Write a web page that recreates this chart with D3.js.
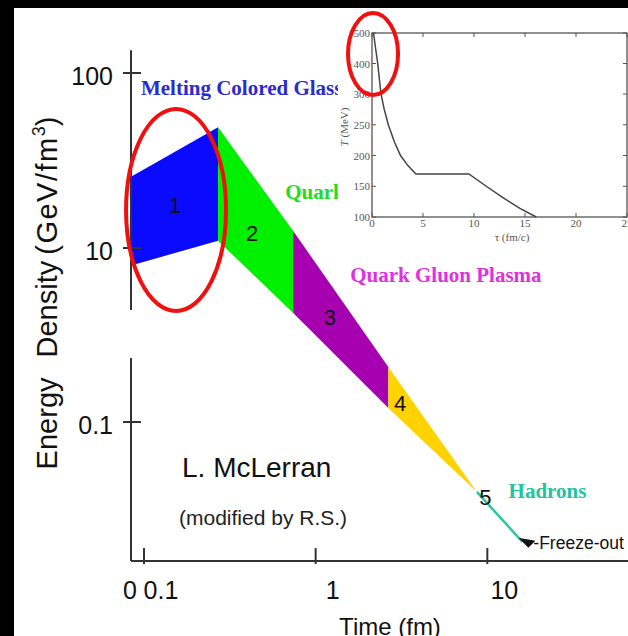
<!DOCTYPE html>
<html>
<head>
<meta charset="utf-8">
<script src="https://cdn.jsdelivr.net/npm/d3@7"></script>
<style>
  body { margin: 0; background: #000; }
  svg { display: block; }
</style>
</head>
<body>
<div id="chart"></div>
<script>
// Phase bands: time boundaries (fm) and upper / lower energy density (GeV/fm^3)
const phaseLabels = ['1', '2', '3', '4'];
const phaseColors = ['#0a0aff', '#00f000', '#a600b0', '#ffd200'];
const bandTimes = [0.084, 0.27, 0.74, 2.65, 8.7];
const bandUpper = [25.5, 49, 12.5, 0.43, 0.0157];
const bandLower = [6.3, 11, 1.79, 0.145, 0.0157];

// Number labels placed inside the bands (time, density)
const numberLabels = ['1', '2', '3', '4', '5'];
const numberTimes = [0.152, 0.427, 1.21, 3.11, 9.73];
const numberDensity = [17.6, 12.2, 1.61, 0.165, 0.0137];

// Hadron gas line to freeze-out
const hadronTimes = [8.7, 16];
const hadronDensity = [0.0157, 0.0042];

// Axis ticks
const xTicks = [0.1, 1, 10];
const xTickLabels = ['0.1', '1', '10'];
const yTicks = [100, 10, 0.1];
const yTickLabels = ['100', '10', '0.1'];

// Inset: temperature vs proper time
const insetTau = [0.15, 0.35, 0.56, 0.88, 1.2, 1.6, 2.2, 2.8, 3.5, 4.3, 9.5, 11.2, 12.8, 14.5, 16.1];
const insetTemp = [500, 450, 400, 300, 275, 250, 222, 200, 184, 170, 170, 150, 132, 114, 100];
const insetXTicks = [0, 5, 10, 15, 20, 25];
const insetYTicks = [100, 150, 200, 250, 300, 400, 500];

const width = 628, height = 636;
const insetLeft = 338, insetBottom = 246;
const sans = 'Liberation Sans, Arial, sans-serif';
const serif = 'Liberation Serif, Times New Roman, serif';

const svg = d3.select('#chart').append('svg')
  .attr('width', width)
  .attr('height', height);

svg.append('rect').attr('width', width).attr('height', height).attr('fill', '#000');
svg.append('rect').attr('x', 14).attr('y', 8)
  .attr('width', width - 14).attr('height', height - 8).attr('fill', '#fff');

// labels running under the inset picture are cut at its left edge
svg.append('clipPath').attr('id', 'left-of-inset')
  .append('rect').attr('x', 0).attr('y', 0)
  .attr('width', insetLeft).attr('height', height);

// Scales (the y axis is broken, so the log scale is piecewise)
const x = d3.scaleLog().domain([0.084, 66]).range([131, 628]);
const y = d3.scaleLog().domain([0.1, 10, 100]).range([422, 248, 73]);
const x0 = x(0.084);

// Bands
const area = d3.area()
  .x(d => x(d.t))
  .y0(d => y(d.lo))
  .y1(d => y(d.hi));

phaseLabels.forEach((p, i) => {
  const seg = [
    { t: bandTimes[i], hi: bandUpper[i], lo: bandLower[i] },
    { t: bandTimes[i + 1], hi: bandUpper[i + 1], lo: bandLower[i + 1] }
  ];
  svg.append('path')
    .datum(seg)
    .attr('fill', phaseColors[i])
    .attr('d', area);
});

// Hadron line
const line = d3.line().x(d => x(d[0])).y(d => y(d[1]));
const hadron = hadronTimes.map((t, i) => [t, hadronDensity[i]]);
svg.append('path')
  .datum(hadron)
  .attr('fill', 'none')
  .attr('stroke', '#2ec4a0')
  .attr('stroke-width', 2.5)
  .attr('d', line);

// Freeze-out arrow head
const endX = x(hadronTimes[1]), endY = y(hadronDensity[1]);
svg.append('path')
  .attr('d', `M${endX - 4},${endY - 4} L${endX + 13},${endY - 1} L${endX + 6},${endY + 6} Z`)
  .attr('fill', '#111');
svg.append('text')
  .attr('x', endX + 11).attr('y', endY + 7)
  .attr('font-family', sans).attr('font-size', 17.5).attr('fill', '#111')
  .text('-Freeze-out');

// Axes
const axisColor = '#333';
svg.append('line')
  .attr('x1', x0).attr('x2', width)
  .attr('y1', y(0.00252)).attr('y2', y(0.00252))
  .attr('stroke', axisColor).attr('stroke-width', 2);
svg.append('line')
  .attr('x1', x0).attr('x2', x0)
  .attr('y1', y(135)).attr('y2', y(1.94))
  .attr('stroke', axisColor).attr('stroke-width', 2);
svg.append('line')
  .attr('x1', x0).attr('x2', x0)
  .attr('y1', y(0.545)).attr('y2', y(0.00252))
  .attr('stroke', axisColor).attr('stroke-width', 2);

const xAxisY = y(0.00252);
svg.selectAll('.x-tick')
  .data(xTicks)
  .enter().append('line')
  .attr('x1', d => x(d)).attr('x2', d => x(d))
  .attr('y1', xAxisY - 13).attr('y2', xAxisY + 3)
  .attr('stroke', axisColor).attr('stroke-width', 2);
svg.selectAll('.x-label')
  .data(xTicks)
  .enter().append('text')
  .attr('x', d => x(d) + 17).attr('y', xAxisY + 38)
  .attr('text-anchor', 'middle')
  .attr('font-family', sans).attr('font-size', 25).attr('fill', '#111')
  .text((d, i) => xTickLabels[i]);
svg.append('text')
  .attr('x', x0 - 1).attr('y', xAxisY + 38)
  .attr('text-anchor', 'middle')
  .attr('font-family', sans).attr('font-size', 25).attr('fill', '#111')
  .text('0');

svg.selectAll('.y-tick')
  .data(yTicks)
  .enter().append('line')
  .attr('x1', x0 - 8).attr('x2', x0 + 10)
  .attr('y1', d => y(d)).attr('y2', d => y(d))
  .attr('stroke', axisColor).attr('stroke-width', 2);
svg.selectAll('.y-label')
  .data(yTicks)
  .enter().append('text')
  .attr('x', x0 - 18).attr('y', d => y(d) + 12)
  .attr('text-anchor', 'end')
  .attr('font-family', sans).attr('font-size', 25).attr('fill', '#111')
  .text((d, i) => yTickLabels[i]);

// Axis titles
const yTitle = svg.append('text')
  .attr('transform', 'translate(57,293) rotate(-90)')
  .attr('text-anchor', 'middle')
  .attr('font-family', sans).attr('font-size', 29).attr('fill', '#111');
yTitle.append('tspan').text('Energy');
yTitle.append('tspan').attr('dx', 20).text('Density');
yTitle.append('tspan').attr('dx', 6).attr('letter-spacing', 1.5).text('(GeV/fm');
yTitle.append('tspan').attr('font-size', 18).attr('dy', -12).text('3');
yTitle.append('tspan').attr('dy', 12).text(')');

svg.append('text')
  .attr('x', 390).attr('y', 635)
  .attr('text-anchor', 'middle')
  .attr('font-family', sans).attr('font-size', 24).attr('fill', '#111')
  .text('Time (fm)');

// Band numbers
svg.selectAll('.num')
  .data(numberLabels)
  .enter().append('text')
  .attr('x', (d, i) => x(numberTimes[i]))
  .attr('y', (d, i) => y(numberDensity[i]) + 8)
  .attr('text-anchor', 'middle')
  .attr('font-family', sans).attr('font-size', 22).attr('fill', '#111')
  .text(d => d);

// Phase names
const phaseText = [
  { text: 'Melting Colored Glass', t: 0.096, e: 74.8, color: '#2a2ad0' },
  { text: 'Quark', t: 0.664, e: 19.1, color: '#22dd22' },
  { text: 'Quark Gluon Plasma', t: 1.59, e: 4.07, color: '#e030e0' },
  { text: 'Hadrons', t: 13.3, e: 0.0134, color: '#22c4a0' }
];
svg.selectAll('.phase')
  .data(phaseText)
  .enter().append('text')
  .attr('x', d => x(d.t)).attr('y', d => y(d.e))
  .attr('clip-path', d => y(d.e) < insetBottom ? 'url(#left-of-inset)' : null)
  .attr('font-family', serif).attr('font-weight', 'bold')
  .attr('font-size', 21).attr('fill', d => d.color)
  .text(d => d.text);

svg.append('text')
  .attr('x', 182).attr('y', 477)
  .attr('font-family', sans).attr('font-size', 28).attr('fill', '#111')
  .text('L. McLerran');
svg.append('text')
  .attr('x', 179).attr('y', 525)
  .attr('font-family', sans).attr('font-size', 21).attr('fill', '#222')
  .text('(modified by R.S.)');

// Big red ellipse around phase 1
svg.append('ellipse')
  .attr('cx', x(0.1537)).attr('cy', y(16.5))
  .attr('rx', 50).attr('ry', 101)
  .attr('fill', 'none').attr('stroke', '#f01010').attr('stroke-width', 4);

// Inset
const inset = svg.append('g');
inset.append('rect')
  .attr('x', insetLeft).attr('y', 8).attr('width', width - insetLeft).attr('height', insetBottom - 8)
  .attr('fill', '#fff');

const ix = d3.scaleLinear().domain([0, 25]).range([372, 627]);
const iy = d3.scaleLinear().domain([100, 300, 500]).range([217, 94, 33]);
const insetGrey = '#555';

inset.append('rect')
  .attr('x', ix(0)).attr('y', iy(500))
  .attr('width', ix(25) - ix(0)).attr('height', iy(100) - iy(500))
  .attr('fill', 'none').attr('stroke', insetGrey).attr('stroke-width', 1.3);

inset.selectAll('.ixt')
  .data(insetXTicks)
  .enter().append('path')
  .attr('d', d => `M${ix(d)},${iy(100)}v-4M${ix(d)},${iy(500)}v4`)
  .attr('stroke', insetGrey).attr('stroke-width', 1);
inset.selectAll('.iyt')
  .data(insetYTicks)
  .enter().append('path')
  .attr('d', d => `M${ix(0)},${iy(d)}h4M${ix(25)},${iy(d)}h-4`)
  .attr('stroke', insetGrey).attr('stroke-width', 1);

inset.selectAll('.ixl')
  .data(insetXTicks)
  .enter().append('text')
  .attr('x', d => ix(d)).attr('y', iy(100) + 10)
  .attr('text-anchor', 'middle')
  .attr('font-family', serif).attr('font-size', 11).attr('fill', insetGrey)
  .text(d => d);
inset.selectAll('.iyl')
  .data(insetYTicks)
  .enter().append('text')
  .attr('x', ix(0) - 2).attr('y', d => iy(d) + 4)
  .attr('text-anchor', 'end')
  .attr('font-family', serif).attr('font-size', 11).attr('fill', insetGrey)
  .text(d => d);

const iTitle = inset.append('text')
  .attr('transform', 'translate(348,127) rotate(-90)')
  .attr('text-anchor', 'middle')
  .attr('font-family', serif).attr('font-size', 11).attr('fill', insetGrey);
iTitle.append('tspan').attr('font-style', 'italic').text('T');
iTitle.append('tspan').text('   (MeV)');

inset.append('text')
  .attr('x', 512).attr('y', 241)
  .attr('text-anchor', 'middle')
  .attr('font-family', serif).attr('font-size', 11).attr('fill', insetGrey)
  .text('τ   (fm/c)');

const iline = d3.line().x(d => ix(d[0])).y(d => iy(d[1]));
inset.append('path')
  .datum(insetTau.map((t, i) => [t, insetTemp[i]]))
  .attr('fill', 'none')
  .attr('stroke', '#444')
  .attr('stroke-width', 1.5)
  .attr('d', iline);

// Small red ellipse on the inset
svg.append('ellipse')
  .attr('cx', ix(0.1)).attr('cy', iy(431))
  .attr('rx', 25).attr('ry', 41)
  .attr('fill', 'none').attr('stroke', '#f01010').attr('stroke-width', 4);
</script>
</body>
</html>
